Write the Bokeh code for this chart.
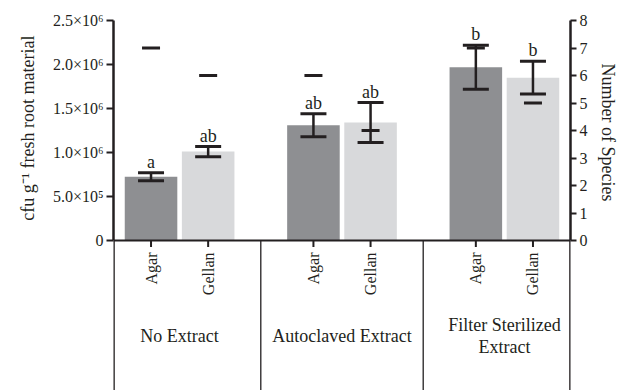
import math
from bokeh.plotting import figure
from bokeh.models import (ColumnDataSource, FactorRange, Range1d, LinearAxis, FixedTicker,
                          Whisker, TeeHead, Span, Title)
from bokeh.transform import factor_cmap
from bokeh.core.properties import value
from bokeh.embed import file_html
from bokeh.resources import INLINE

# ---------------- data ----------------
groups = ["No Extract", "Autoclaved Extract", "Filter Sterilized Extract"]
group_labels = ["No Extract", "Autoclaved Extract", "Filter Sterilized\nExtract"]
media = ["Agar", "Gellan"]
cfu_mean = [0.725e6, 1.01e6, 1.31e6, 1.34e6, 1.97e6, 1.85e6]
cfu_err = [0.045e6, 0.057e6, 0.13e6, 0.227e6, 0.25e6, 0.186e6]
species = [7, 6, 6, 4, 7, 5]
letters = ["a", "ab", "ab", "ab", "b", "b"]
cfu_ticks = [0, 5e5, 1e6, 1.5e6, 2e6, 2.5e6]
cfu_tick_labels = ["0", "5.0×10⁵", "1.0×10⁶", "1.5×10⁶", "2.0×10⁶", "2.5×10⁶"]
species_ticks = [0, 1, 2, 3, 4, 5, 6, 7, 8]

# ---------------- layout / style ----------------
W, H = 622, 390
LEFT, RIGHT, TOP = 113, 49, 20
ZERO_PX = 240
below_ratio = (H - ZERO_PX) / (ZERO_PX - TOP)
FONT_NAME = "Liberation Serif"
FONT = value(FONT_NAME)
INK = "#231f20"
DARK, LIGHT = "#8e8f92", "#d8d9db"
GP, RP = 0.843, 0.157

x = [(g, m) for g in groups for m in media]
upper = [m + e for m, e in zip(cfu_mean, cfu_err)]
lower = [m - e for m, e in zip(cfu_mean, cfu_err)]
src = ColumnDataSource(dict(x=x, sub=[m for _, m in x], mean=cfu_mean, upper=upper,
                            lower=lower, species=species, letters=letters,
                            zero=[0] * len(x)))

cfu_top = cfu_ticks[-1]
sp_top = species_ticks[-1]
x_range = FactorRange(factors=x, factor_padding=0, group_padding=GP,
                      range_padding=RP, range_padding_units="absolute")
p = figure(width=W, height=H, x_range=x_range,
           y_range=Range1d(-cfu_top * below_ratio, cfu_top),
           x_axis_location=None, toolbar_location=None, output_backend="svg",
           min_border_left=LEFT, min_border_right=RIGHT, min_border_top=TOP,
           min_border_bottom=0)
p.outline_line_color = None
p.xgrid.visible = False
p.ygrid.visible = False
p.extra_y_ranges = {"species": Range1d(-sp_top * below_ratio, sp_top)}

def style_axis(ax):
    ax.axis_line_width = 2.5
    ax.axis_line_color = INK
    ax.major_tick_line_width = 2
    ax.major_tick_line_color = INK
    ax.major_tick_out = 7
    ax.major_tick_in = 0
    ax.minor_tick_line_color = None
    ax.major_label_text_font = FONT_NAME
    ax.major_label_text_font_size = "16px"
    ax.major_label_text_color = INK
    ax.major_label_standoff = 3

ly = p.yaxis[0]
ly.ticker = FixedTicker(ticks=cfu_ticks)
ly.major_label_overrides = {t: l for t, l in zip(cfu_ticks, cfu_tick_labels)}
ly.bounds = (cfu_ticks[0], cfu_top)
style_axis(ly)

ry = LinearAxis(y_range_name="species", ticker=FixedTicker(ticks=species_ticks),
                bounds=(species_ticks[0], sp_top))
style_axis(ry)
ry.major_tick_out = 6
p.add_layout(ry, "right")

# axis titles
p.add_layout(Title(text="cfu g⁻¹ fresh root material", align="right", offset=15,
                   vertical_align="bottom", standoff=24, text_font=FONT_NAME,
                   text_font_size="18px", text_font_style="normal", text_color=INK), "left")
p.add_layout(Title(text="Number of Species", align="left", offset=43,
                   vertical_align="top", text_font=FONT_NAME, text_font_size="18px",
                   text_font_style="normal", text_color=INK), "right")

# x tick marks (lower half visible below bars)
p.scatter(x="x", y="zero", source=src, marker="dash", angle=math.pi / 2, size=13,
          line_width=2, line_color=INK)

# bars
p.vbar(x="x", top="mean", width=0.92, source=src, line_color=None,
       fill_color=factor_cmap("x", palette=[DARK, LIGHT], factors=media, start=1, end=2))

# error bars
p.add_layout(Whisker(source=src, base="x", upper="upper", lower="lower", level="annotation",
                     line_width=2.5, line_color=INK,
                     upper_head=TeeHead(size=26, line_width=3, line_color=INK),
                     lower_head=TeeHead(size=26, line_width=3, line_color=INK)))

# number of species marks
p.scatter(x="x", y="species", source=src, marker="dash", size=18, line_width=3,
          line_color=INK, y_range_name="species")

# significance letters
p.text(x="x", y="upper", text="letters", source=src, y_offset=-1,
       text_align="center", text_baseline="bottom", text_font=FONT,
       text_font_size="18px", text_color=INK)

# x axis line
p.add_layout(Span(location=0, dimension="width", line_width=2, line_color=INK))

# vertical separator lines below axis
n = len(media)
total = len(groups) * n + (len(groups) - 1) * GP
y_bottom = -cfu_top * below_ratio
edge_x = [-RP, total + RP]
sep_x = [k * (n + GP) + n + GP / 2 for k in range(len(groups) - 1)]
p.segment(x0=edge_x, x1=edge_x, y0=[0] * 2, y1=[y_bottom] * 2, line_color=INK, line_width=2.6)
p.segment(x0=sep_x, x1=sep_x, y0=[0] * len(sep_x), y1=[y_bottom] * len(sep_x),
          line_color=INK, line_width=1.3)

# sub labels
p.text(x="x", y="zero", text="sub", source=src, angle=math.pi / 2, y_offset=12,
       text_align="right", text_baseline="middle", text_font=FONT,
       text_font_size="16px", text_color=INK)

# group labels
gsrc = ColumnDataSource(dict(x=groups, label=group_labels, zero=[0] * len(groups)))
p.text(x="x", y="zero", text="label", source=gsrc, y_offset=95,
       text_align="center", text_baseline="middle", text_font=FONT,
       text_font_size="18px", text_color=INK, text_line_height=1.1)

open("out.html", "w").write(file_html(p, INLINE))
